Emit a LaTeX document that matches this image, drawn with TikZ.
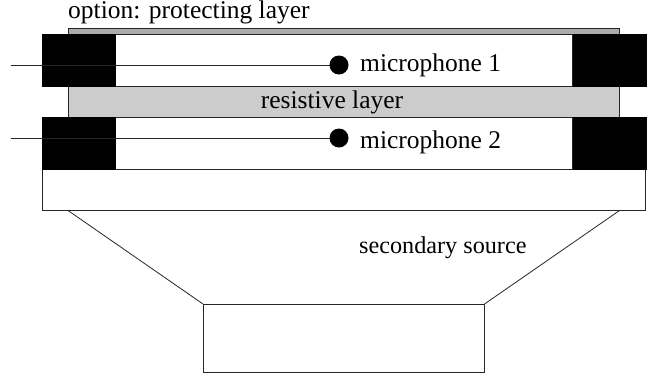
\documentclass[tikz,border=0pt]{standalone}
\usepackage{fontspec}
\setmainfont{Liberation Serif}
\tikzset{
  box/.style={draw=black!85,line width=0.8pt,inner sep=0pt,outer sep=0pt,anchor=north west},
  pad/.style={fill=black,draw=black,line width=0.3pt,inner sep=0pt,outer sep=0pt,anchor=north west,minimum width=73pt,minimum height=52.5pt},
  mic/.style={circle,fill=black,inner sep=0pt,outer sep=0pt,minimum size=19pt},
  wire/.style={draw=black!85,line width=0.8pt},
  lab/.style={inner sep=0pt,anchor=base west,font=\fontsize{25.5pt}{30pt}\selectfont}
}
\begin{document}
\begin{tikzpicture}[x=1pt,y=-1pt]
\useasboundingbox (0,0) rectangle (655,376);
% layers
\node[box,fill=black!33,minimum width=551.5pt,minimum height=6pt] (prot) at (68,28.5) {};
\node[box,fill=black!20,minimum width=551.5pt,minimum height=31pt] (res) at (68,86.5) {};
\node[box,minimum width=457.5pt,minimum height=52.5pt] (cav1) at (115,34) {};
\node[box,minimum width=457.5pt,minimum height=52.5pt] (cav2) at (115,117) {};
\node[box,minimum width=603.5pt,minimum height=41pt] (base) at (42,169.5) {};
\node[box,minimum width=281.5pt,minimum height=68pt] (coil) at (203,304) {};
% clamps
\node[pad] (p1l) at (42,34) {};
\node[pad] (p1r) at (573,34) {};
\node[pad] (p2l) at (42,117) {};
\node[pad] (p2r) at (573,117) {};
% microphones
\node[mic] (m1) at (339,65) {};
\node[mic] (m2) at (339,138) {};
\coordinate (w1) at (11,65);
\coordinate (w2) at (11,138);
\draw[wire] (w1) -- (m1);
\draw[wire] (w2) -- (m2);
% cone
\draw[wire] (base.south west -| prot.south west) -- (coil.north west);
\draw[wire] (base.south east -| prot.south east) -- (coil.north east);
% labels
\node[lab] (t0) at (68,18.5) {option: protecting layer};
\node[lab] (t1) at (360,71) {microphone 1};
\node[lab,anchor=base] (t2) at (332,108) {resistive layer};
\node[lab] (t3) at (360,148) {microphone 2};
\node[lab,font=\fontsize{24.2pt}{30pt}\selectfont] (t4) at (359,253) {secondary source};
\end{tikzpicture}
\end{document}
